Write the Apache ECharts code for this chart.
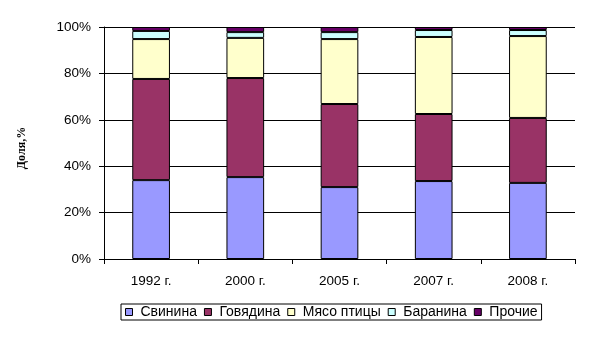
<!DOCTYPE html>
<html><head><meta charset="utf-8">
<script src="https://cdn.jsdelivr.net/npm/echarts@6/dist/echarts.min.js"></script>
<style>html,body{margin:0;padding:0;background:#fff}#c{width:591px;height:339px}</style>
</head><body><div id="c"></div>
<script>
const categories = ['1992 г.', '2000 г.', '2005 г.', '2007 г.', '2008 г.'];
const pork    = [34.0, 35.3, 31.0, 33.6, 32.8];
const beef    = [43.6, 42.7, 35.8, 28.9, 28.0];
const poultry = [17.2, 17.3, 28.0, 33.2, 35.3];
const lamb    = [3.5, 2.5, 3.0, 3.0, 2.6];
const other   = [1.7, 2.2, 2.2, 1.3, 1.3];
const seriesNames = ['Свинина', 'Говядина', 'Мясо птицы', 'Баранина', 'Прочие'];
const colors = ['#9999FF', '#993366', '#FFFFCC', '#CCFFFF', '#660066'];
const values = [pork, beef, poultry, lamb, other];

const chart = echarts.init(document.getElementById('c'), null, {renderer: 'canvas'});
const font = 'Arial, "Liberation Sans", sans-serif';
chart.setOption({
  animation: false,
  backgroundColor: '#fff',
  grid: {left: 104, right: 16, top: 27, bottom: 80, containLabel: false},
  legend: {
    left: 121, top: 304,
    padding: [1, 4, 1, 4],
    itemWidth: 7, itemHeight: 7, itemGap: 7,
    borderColor: '#000', borderWidth: 1,
    icon: 'rect',
    itemStyle: {borderColor: '#000', borderWidth: 1},
    textStyle: {fontFamily: font, fontSize: 14, color: '#000', padding: [0, 0, 0, 3], lineHeight: 14},
    data: seriesNames
  },
  xAxis: {
    type: 'category', data: categories,
    axisLine: {lineStyle: {color: '#000', width: 1}},
    axisTick: {show: true, alignWithLabel: false, length: 5, inside: false, lineStyle: {color: '#000'}},
    axisLabel: {fontFamily: font, fontSize: 13.5, color: '#000', margin: 15}
  },
  yAxis: {
    type: 'value', min: 0, max: 100, interval: 20,
    name: 'Доля,%', nameLocation: 'middle', nameGap: 76, nameRotate: 90,
    nameTextStyle: {fontFamily: '"Liberation Serif", "Times New Roman", serif', fontWeight: 'bold', fontSize: 12, color: '#000', padding: [0, 10, 0, 0]},
    axisLine: {show: true, lineStyle: {color: '#000', width: 1}},
    axisTick: {show: true, length: 5, lineStyle: {color: '#000'}},
    splitLine: {show: true, lineStyle: {color: '#000', width: 1}},
    axisLabel: {fontFamily: font, fontSize: 13.5, color: '#000', margin: 13, formatter: '{value}%'}
  },
  series: values.map((v, i) => ({
    name: seriesNames[i], type: 'bar', stack: 'total', data: v,
    barWidth: '40%',
    itemStyle: {color: colors[i], borderColor: '#000', borderWidth: 1}
  }))
});
</script></body></html>
